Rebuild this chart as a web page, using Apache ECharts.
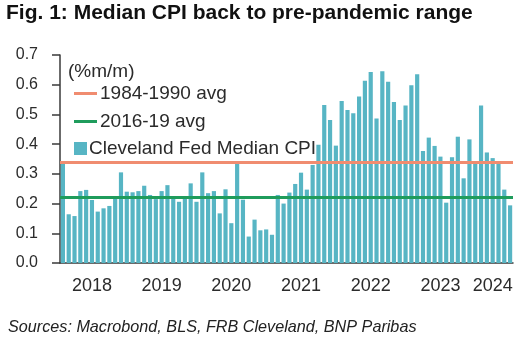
<!DOCTYPE html>
<html>
<head>
<meta charset="utf-8">
<script src="https://cdn.jsdelivr.net/npm/echarts@6/dist/echarts.min.js"></script>
<style>
  html, body { margin: 0; padding: 0; background: #fff; }
  #chart { width: 526px; height: 340px; }
</style>
</head>
<body>
<div id="chart"></div>
<script>
// Cleveland Fed median CPI, % m/m, monthly from Jan 2018 to Jun 2024
const years = ['2018', '2019', '2020', '2021', '2022', '2023', '2024'];
const cpi2018 = [0.34, 0.164, 0.158, 0.242, 0.246, 0.212, 0.173, 0.184, 0.192, 0.219, 0.305, 0.24];
const cpi2019 = [0.238, 0.242, 0.26, 0.229, 0.215, 0.242, 0.262, 0.218, 0.206, 0.22, 0.268, 0.206];
const cpi2020 = [0.305, 0.235, 0.242, 0.167, 0.248, 0.134, 0.336, 0.213, 0.089, 0.146, 0.11, 0.113];
const cpi2021 = [0.095, 0.229, 0.2, 0.237, 0.266, 0.304, 0.247, 0.33, 0.398, 0.532, 0.481, 0.395];
const cpi2022 = [0.545, 0.515, 0.504, 0.56, 0.613, 0.643, 0.486, 0.645, 0.61, 0.542, 0.481, 0.53];
const cpi2023 = [0.598, 0.635, 0.377, 0.422, 0.394, 0.358, 0.203, 0.356, 0.425, 0.285, 0.416, 0.338];
const cpi2024 = [0.53, 0.372, 0.353, 0.343, 0.247, 0.194];

// Reference averages (% m/m)
const avg1984to1990 = 0.342;
const avg2016to19 = 0.219;

const yearValues = [cpi2018, cpi2019, cpi2020, cpi2021, cpi2022, cpi2023, cpi2024];

const categories = [];
const monthly = [];
const yearStartIdx = new Set();
const yearLabelIdx = new Set();
yearValues.forEach((arr, k) => {
  yearStartIdx.add(monthly.length);
  // year label sits near the middle of the months shown for that year
  yearLabelIdx.add(monthly.length + (arr.length === 12 ? 5 : 2));
  arr.forEach((v, m) => {
    categories.push(years[k] + '-' + String(m + 1).padStart(2, '0'));
    monthly.push(v);
  });
});

const font = "'Liberation Sans', Arial, Helvetica, sans-serif";
const axisColor = '#3a3a3a';
const textColor = '#2b2b2b';
const barColor = '#57b5c4';
const salmon = '#f08c70';
const green = '#1f9c5c';

const chart = echarts.init(document.getElementById('chart'), null, { renderer: 'canvas' });

const legendText = { fontFamily: font, fontSize: 19, color: textColor, lineHeight: 19 };
const legendBase = {
  orient: 'vertical',
  left: 74,
  padding: 0,
  itemGap: 0,
  selectedMode: false
};

chart.setOption({
  animation: false,
  backgroundColor: '#fff',
  title: {
    text: 'Fig. 1: Median CPI back to pre-pandemic range',
    left: 6,
    top: 3,
    padding: 0,
    textStyle: { fontFamily: font, fontSize: 21, fontWeight: 'bold', color: '#111' }
  },
  graphic: [
    {
      type: 'text', left: 68, top: 62,
      style: { text: '(%m/m)', fontFamily: font, fontSize: 19, fill: textColor }
    },
    {
      type: 'text', left: 8, top: 319,
      style: { text: 'Sources: Macrobond, BLS, FRB Cleveland, BNP Paribas',
               fontFamily: font, fontSize: 16.2, fontStyle: 'italic', fill: '#222' }
    }
  ],
  legend: [
    Object.assign({}, legendBase, {
      top: 84, itemWidth: 23, itemHeight: 3,
      data: [{ name: '1984-1990 avg', icon: 'rect' }],
      textStyle: Object.assign({}, legendText, { padding: [0, 0, 0, -2] })
    }),
    Object.assign({}, legendBase, {
      top: 112, itemWidth: 23, itemHeight: 3,
      data: [{ name: '2016-19 avg', icon: 'rect' }],
      textStyle: Object.assign({}, legendText, { padding: [0, 0, 0, -2] })
    }),
    Object.assign({}, legendBase, {
      top: 139, itemWidth: 13, itemHeight: 13,
      data: [{ name: 'Cleveland Fed Median CPI', icon: 'rect' }],
      textStyle: Object.assign({}, legendText, { padding: [0, 0, 0, -3] })
    })
  ],
  grid: { left: 60, right: 13, top: 55, bottom: 77, containLabel: false },
  xAxis: {
    type: 'category',
    data: categories,
    boundaryGap: true,
    axisLine: { lineStyle: { color: axisColor, width: 1.5 } },
    axisTick: {
      interval: (i) => yearStartIdx.has(i),
      length: 9,
      lineStyle: { color: axisColor, width: 1.5 }
    },
    axisLabel: {
      interval: (i) => yearLabelIdx.has(i),
      formatter: (v) => v.slice(0, 4),
      margin: 14,
      fontFamily: font,
      fontSize: 18,
      color: textColor
    },
    splitLine: { show: false }
  },
  yAxis: {
    type: 'value',
    min: 0,
    max: 0.7,
    interval: 0.1,
    splitLine: { show: false },
    axisLine: { show: true, lineStyle: { color: axisColor, width: 1.5 } },
    axisTick: { show: true, length: 8, lineStyle: { color: axisColor, width: 1.5 } },
    axisLabel: {
      formatter: (v) => v.toFixed(1),
      margin: 22,
      fontFamily: font,
      fontSize: 16,
      color: textColor
    }
  },
  series: [
    {
      name: 'Cleveland Fed Median CPI',
      type: 'bar',
      data: monthly,
      barWidth: '72%',
      itemStyle: { color: barColor },
      z: 2
    },
    {
      name: '1984-1990 avg',
      type: 'line',
      data: [],
      symbol: 'none',
      lineStyle: { color: salmon, width: 3 },
      itemStyle: { color: salmon },
      z: 3,
      markLine: {
        silent: true,
        symbol: 'none',
        label: { show: false },
        lineStyle: { color: salmon, width: 3, type: 'solid' },
        data: [{ yAxis: avg1984to1990 }]
      }
    },
    {
      name: '2016-19 avg',
      type: 'line',
      data: [],
      symbol: 'none',
      lineStyle: { color: green, width: 3 },
      itemStyle: { color: green },
      z: 3,
      markLine: {
        silent: true,
        symbol: 'none',
        label: { show: false },
        lineStyle: { color: green, width: 3, type: 'solid' },
        data: [{ yAxis: avg2016to19 }]
      }
    }
  ]
});
</script>
</body>
</html>
